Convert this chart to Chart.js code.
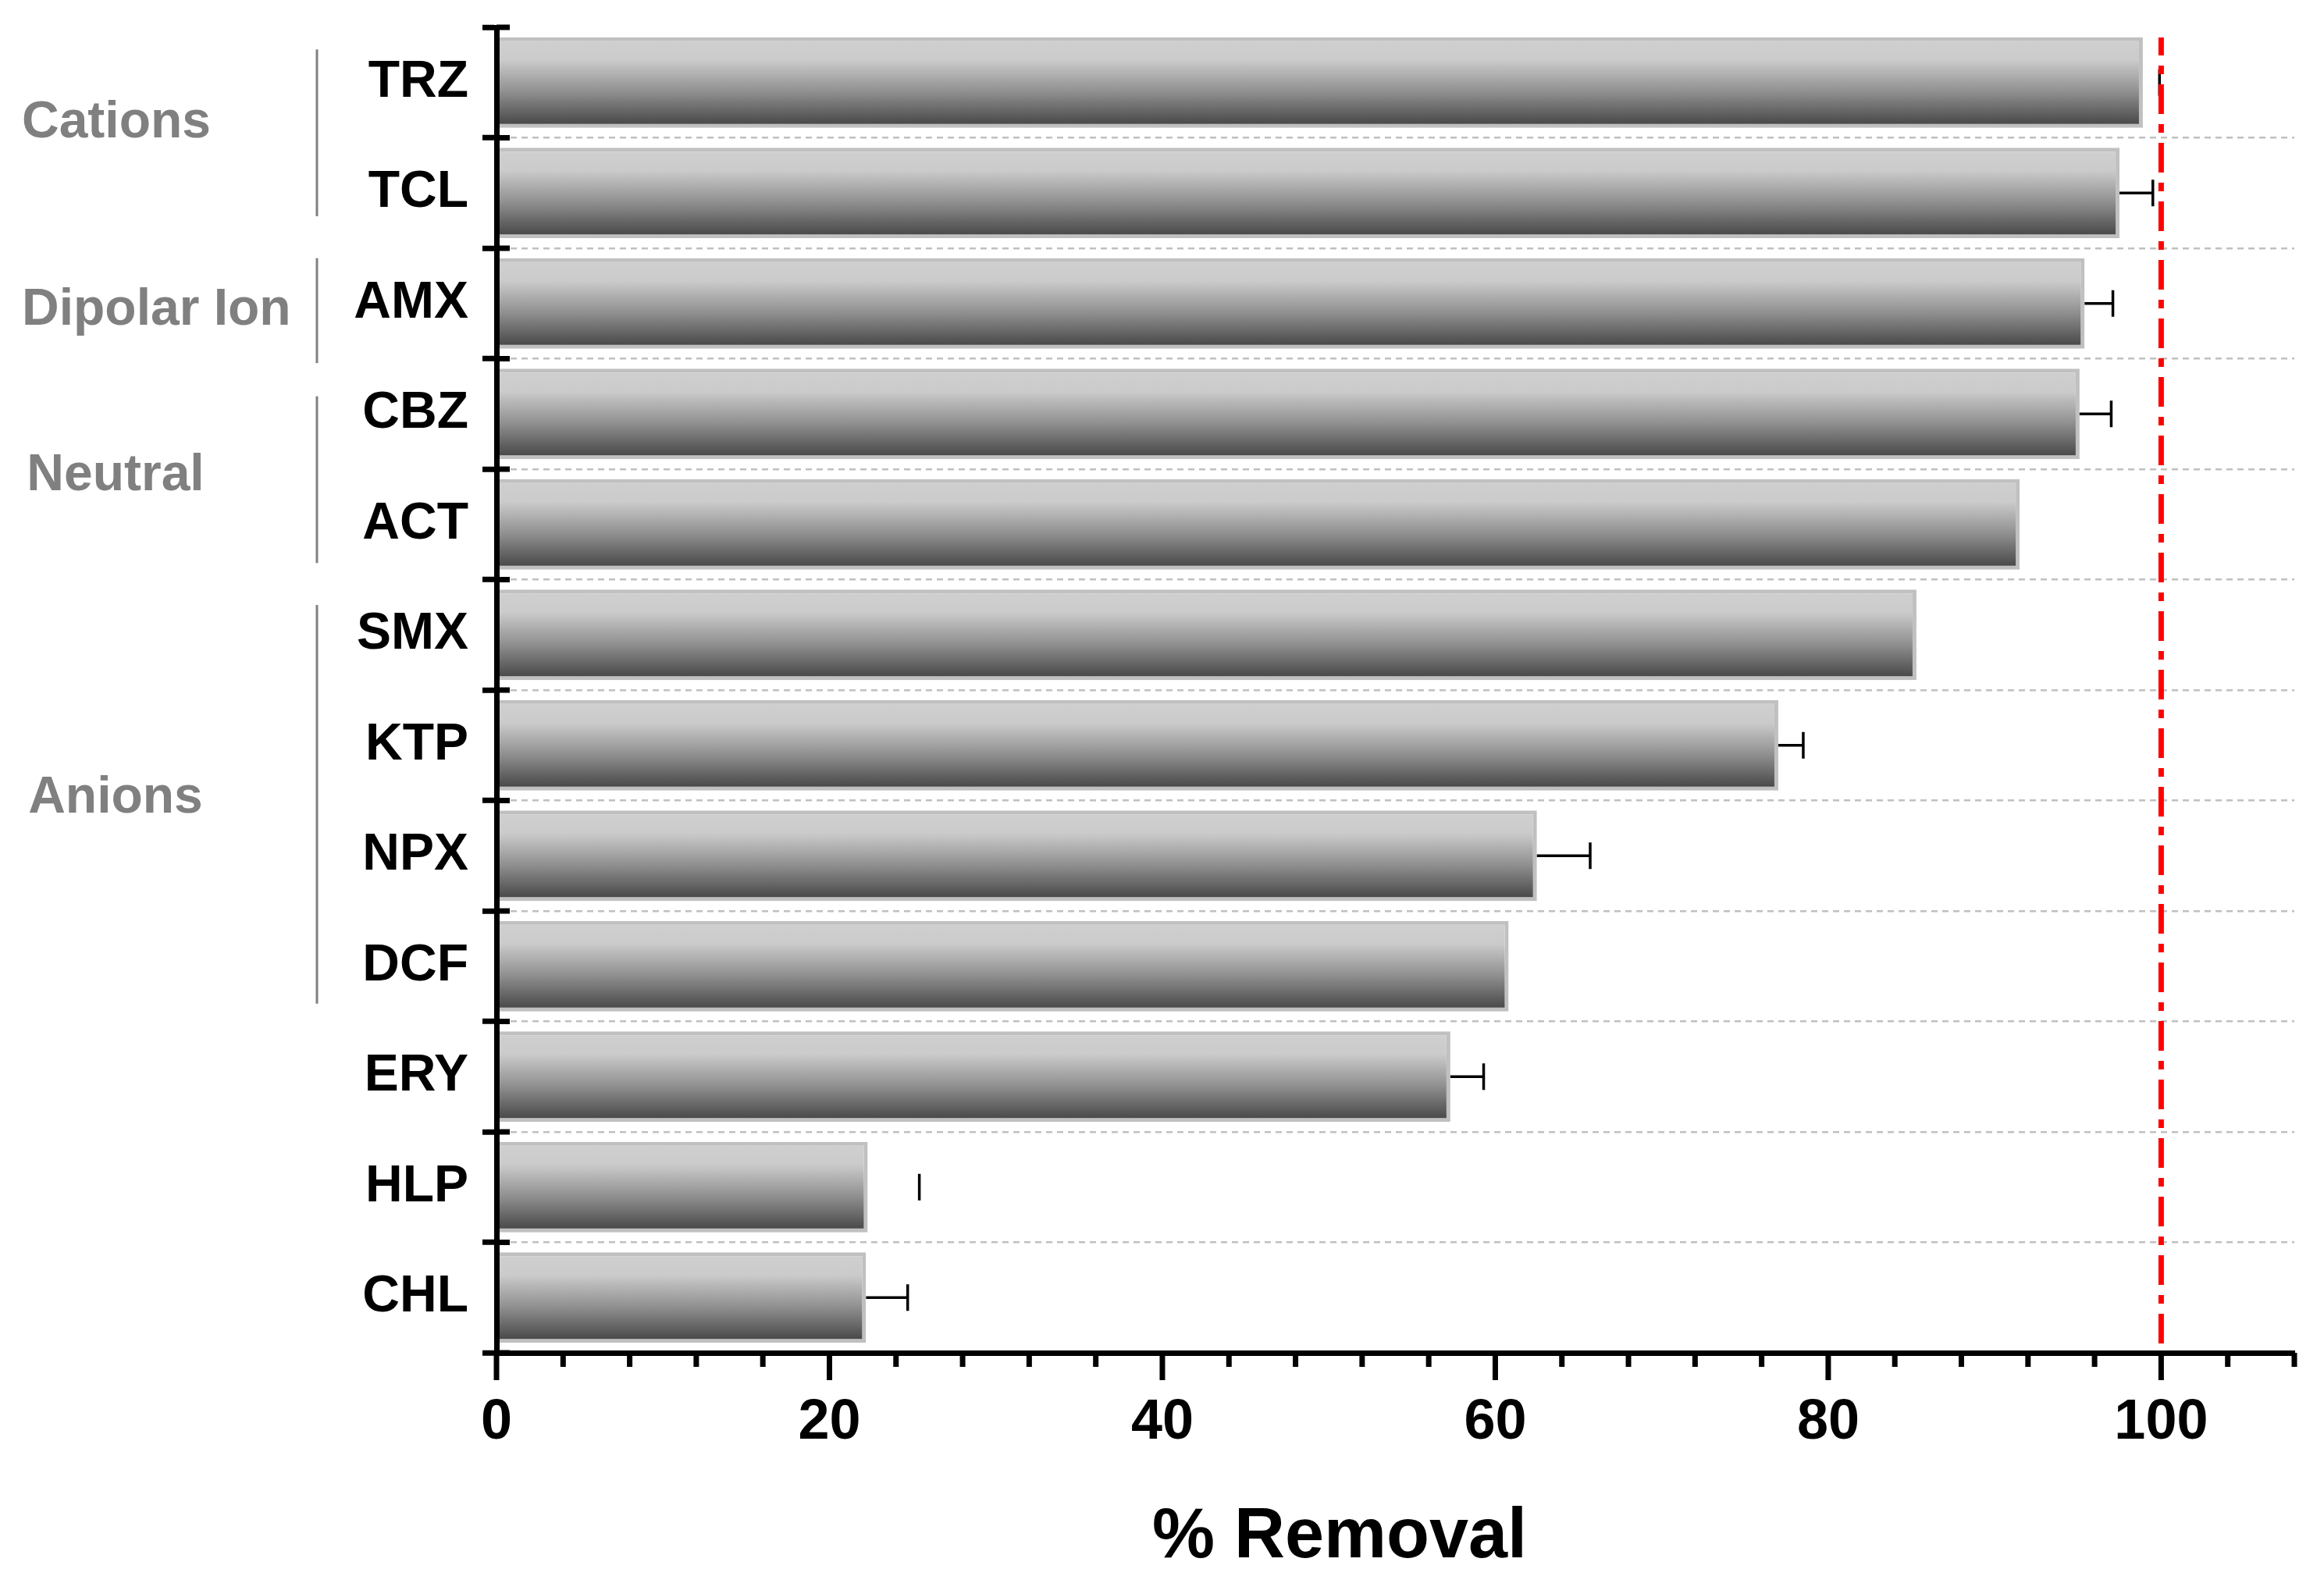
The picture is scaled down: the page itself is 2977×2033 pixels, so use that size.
<!DOCTYPE html>
<html>
<head>
<meta charset="utf-8">
<script src="https://cdn.jsdelivr.net/npm/chart.js@4.4.1/dist/chart.umd.min.js"></script>
<style>
  html, body { margin: 0; padding: 0; background: #fff; }
</style>
</head>
<body>
<canvas id="removal-chart" width="2977" height="2033"></canvas>
<script>
// compounds, top to bottom
const categories = ["TRZ", "TCL", "AMX", "CBZ", "ACT", "SMX", "KTP", "NPX", "DCF", "ERY", "HLP", "CHL"];
// % removal and its (one-sided) error
const removal = [98.9, 97.5, 95.4, 95.1, 91.5, 85.3, 77.0, 62.5, 60.8, 57.3, 22.3, 22.2];
const removalErr = [1.0, 2.0, 1.7, 1.9, 0, 0, 1.5, 3.2, 0, 2.0, 3.1, 2.5];
// only the cap of these error bars is visible in the original
const capOnly = ["TRZ", "HLP"];

// charge groups on the left, spans in category index units
const groupNames = ["Cations", "Dipolar Ion", "Neutral", "Anions"];
const groupSpans = [[-0.30, 1.21], [1.59, 2.54], [2.84, 4.35], [4.73, 8.34]];
const groupCenters = [0.33, 2.02, 3.52, 6.44];

const xMin = 0;
const xMax = 108;
const xStep = 4;
const xLabelEvery = 20;
const referenceValue = 100;
const axisTitle = "% Removal";

const FONT = "'Liberation Sans', Arial, sans-serif";
const BAR_PCT = 0.82;

function barGradient(context) {
  const chart = context.chart;
  const yScale = chart.scales.y;
  if (context.type !== "data" || !chart.chartArea || !yScale) return "#888888";
  const step = yScale.height / categories.length;
  const yc = yScale.getPixelForValue(context.dataIndex);
  const half = step * BAR_PCT / 2;
  const g = chart.ctx.createLinearGradient(0, yc - half, 0, yc + half);
  g.addColorStop(0, "#d0d0d0");
  g.addColorStop(0.25, "#cbcbcb");
  g.addColorStop(0.6, "#909090");
  g.addColorStop(1, "#414141");
  return g;
}

const decorations = {
  id: "decorations",
  afterDraw(chart) {
    const { ctx, chartArea, scales: { x, y } } = chart;
    ctx.save();

    // inner half of the category ticks (they cross the axis)
    ctx.strokeStyle = "#000";
    ctx.lineWidth = 7;
    for (let i = 0; i <= categories.length; i++) {
      const py = y.getPixelForValue(i - 0.5);
      ctx.beginPath();
      ctx.moveTo(chartArea.left, py);
      ctx.lineTo(chartArea.left + 17, py);
      ctx.stroke();
    }

    // x ticks, long for labelled ones
    x.ticks.forEach(t => {
      const px = x.getPixelForValue(t.value);
      const len = t.value % xLabelEvery === 0 ? 35 : 18;
      ctx.beginPath();
      ctx.moveTo(px, chartArea.bottom);
      ctx.lineTo(px, chartArea.bottom + len);
      ctx.stroke();
    });

    // error bars
    ctx.lineWidth = 3.5;
    removal.forEach((v, i) => {
      const e = removalErr[i];
      if (!e) return;
      const py = y.getPixelForValue(i);
      const x0 = x.getPixelForValue(v);
      const x1 = x.getPixelForValue(v + e);
      if (!capOnly.includes(categories[i])) {
        ctx.beginPath();
        ctx.moveTo(x0, py);
        ctx.lineTo(x1, py);
        ctx.stroke();
      }
      ctx.beginPath();
      ctx.moveTo(x1, py - 17);
      ctx.lineTo(x1, py + 17);
      ctx.stroke();
    });

    // dash-dot reference line at 100 %
    const rx = x.getPixelForValue(referenceValue);
    ctx.strokeStyle = "#ff0000";
    ctx.lineWidth = 7;
    ctx.setLineDash([38, 13, 11, 13]);
    ctx.lineDashOffset = 15;
    ctx.beginPath();
    ctx.moveTo(rx, chartArea.top + 13);
    ctx.lineTo(rx, chartArea.bottom - 8);
    ctx.stroke();
    ctx.setLineDash([]);

    // group brackets and names
    ctx.strokeStyle = "#808080";
    ctx.fillStyle = "#808080";
    ctx.lineWidth = 3;
    ctx.font = "bold 66px " + FONT;
    ctx.textAlign = "center";
    ctx.textBaseline = "alphabetic";
    groupNames.forEach((name, g) => {
      const [a, b] = groupSpans[g];
      ctx.beginPath();
      ctx.moveTo(406, y.getPixelForValue(a));
      ctx.lineTo(406, y.getPixelForValue(b));
      ctx.stroke();
      const w = ctx.measureText(name).width;
      const cx = Math.max(148, 28 + w / 2);
      ctx.fillText(name, cx, y.getPixelForValue(groupCenters[g]) + 24);
    });

    // axis title
    ctx.fillStyle = "#000";
    ctx.font = "bold 90px " + FONT;
    ctx.fillText(axisTitle, 1716, 1995);

    ctx.restore();
  }
};

const config = {
  type: "bar",
  data: {
    labels: categories,
    datasets: [
      {
        data: removal,
        backgroundColor: barGradient,
        borderColor: "#c0c0c0",
        borderWidth: 5,
        borderSkipped: "start",
        barPercentage: BAR_PCT,
        categoryPercentage: 1,
      },
    ],
  },
  options: {
    indexAxis: "y",
    responsive: false,
    animation: false,
    layout: { padding: { top: 35, right: 38, left: 0, bottom: 0 } },
    plugins: {
      legend: { display: false },
      tooltip: { enabled: false },
    },
    scales: {
      x: {
        type: "linear",
        min: xMin,
        max: xMax,
        afterFit: s => { s.height = 300; s.paddingRight = 0; },
        grid: {
          display: true,
          drawOnChartArea: false,
          drawTicks: true,
          tickLength: 35,
          tickColor: "rgba(0,0,0,0)",
        },
        border: { display: true, color: "#000", width: 7, z: 1 },
        ticks: {
          stepSize: xStep,
          autoSkip: false,
          maxRotation: 0,
          padding: 12,
          color: "#000",
          font: { family: FONT, size: 72, weight: "bold" },
          callback: v => (v % xLabelEvery === 0 ? v : ""),
        },
      },
      y: {
        type: "category",
        offset: true,
        afterFit: s => { s.width = 636; s.paddingTop = 0; s.paddingBottom = 0; },
        grid: {
          offset: true,
          color: c => (c.index === 0 ? "rgba(0,0,0,0)" : "#c0c0c0"),
          lineWidth: 2.5,
          drawTicks: true,
          tickLength: 18,
          tickWidth: 7,
          tickColor: "#000",
          tickBorderDash: [],
        },
        border: { display: true, color: "#000", width: 7, dash: [8, 6], z: 1 },
        ticks: {
          padding: 18,
          color: "#000",
          font: { family: FONT, size: 66, weight: "bold" },
        },
      },
    },
  },
  plugins: [decorations],
};

const ctx = document.getElementById("removal-chart").getContext("2d");
const removalChart = new Chart(ctx, config);
</script>
</body>
</html>
